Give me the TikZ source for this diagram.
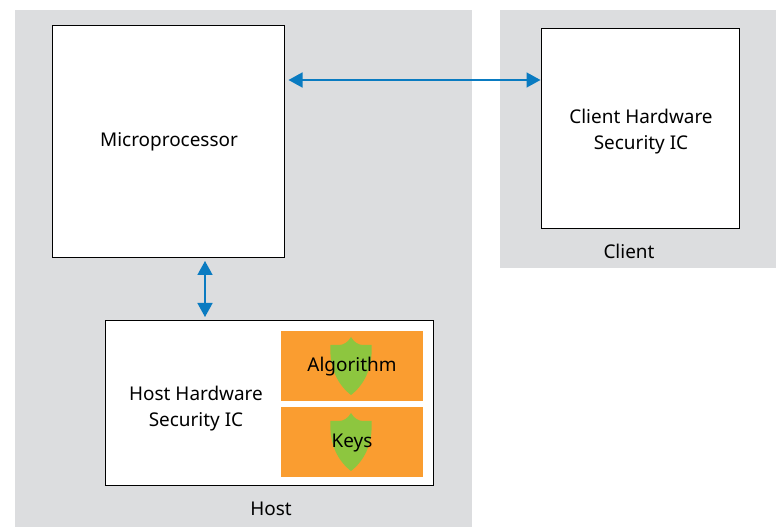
\documentclass[tikz,border=0pt]{standalone}
\usepackage{fontspec}
\setmainfont{Noto Sans}
\usetikzlibrary{arrows.meta,calc}
\definecolor{panelgray}{HTML}{DCDDDF}
\definecolor{linkblue}{HTML}{0A7BC1}
\definecolor{blockorange}{HTML}{FA9D30}
\definecolor{shieldgreen}{HTML}{8DC63F}
\tikzset{
  panel/.style={fill=panelgray,draw=none,inner sep=0,outer sep=0},
  whitebox/.style={fill=white,draw=black,line width=0.75pt,inner sep=0,outer sep=0,align=center},
  orangeblock/.style={fill=blockorange,draw=none,inner sep=0,outer sep=0},
  lbl/.style={inner sep=0,outer sep=0,align=center,font=\fontsize{14.2pt}{19.5pt}\selectfont,text=black},
  link/.style={draw=linkblue,line width=1.2pt,{Triangle[width=11.25pt,length=10.5pt]}-{Triangle[width=11.25pt,length=10.5pt]}},
  shield/.pic={\fill[shieldgreen] (0,-29) .. controls (-3,-24) and (-7,-21) .. (-12,-21) -- (-20.5,-21)
      .. controls (-22,2) and (-13,19) .. (0,29)
      .. controls (13,19) and (22,2) .. (20.5,-21) -- (12,-21) .. controls (7,-21) and (3,-24) .. (0,-29) -- cycle;}
}
\begin{document}
\begin{tikzpicture}[x=0.75pt,y=-0.75pt]
\useasboundingbox (0,0) rectangle (776,527);
\fill[white] (0,0) rectangle (776,527);
\node[panel,minimum width=342.75pt,minimum height=387.75pt,anchor=north west] (hostpanel) at (15,10) {};
\node[panel,minimum width=207pt,minimum height=193.5pt,anchor=north west] (clientpanel) at (500,10) {};
\node[whitebox,minimum width=174pt,minimum height=174pt,anchor=north west] (micro) at (52.5,25.5) {};
\node[lbl] (microlbl) at (169,142) {Microprocessor};
\node[whitebox,minimum width=148.5pt,minimum height=150pt,anchor=north west] (clientic) at (541.5,28.5) {};
\node[lbl] (clientlbl) at (641,132) {Client Hardware\\Security IC};
\node[whitebox,minimum width=246pt,minimum height=123.75pt,anchor=north west] (hostic) at (105.5,320.5) {};
\node[lbl] (hostlbl) at (196,409) {Host Hardware\\Security IC};
\node[orangeblock,minimum width=106.5pt,minimum height=52.5pt,anchor=north west] (algo) at (281,331) {};
\node[orangeblock,minimum width=106.5pt,minimum height=52.5pt,anchor=north west] (keys) at (281,407) {};
\pic at (351,366) {shield};
\pic at (351,442) {shield};
\node[lbl] (algolbl) at (352,367) {Algorithm};
\node[lbl] (keyslbl) at (352,443) {Keys};
\node[lbl] (clientcap) at (629,251) {Client};
\node[lbl] (hostcap) at (271,509) {Host};
\coordinate (microeast) at (micro.east |- 0,80);
\coordinate (clientwest) at (clientic.west |- 0,80);
\coordinate (microsouth) at (205,258);
\coordinate (hostnorth) at (205,321);
\draw[link,shorten <=3pt,shorten >=0.75pt] (microeast) -- (clientwest);
\draw[link,shorten <=2.25pt,shorten >=3pt] (microsouth) -- (hostnorth);
\end{tikzpicture}
\end{document}
